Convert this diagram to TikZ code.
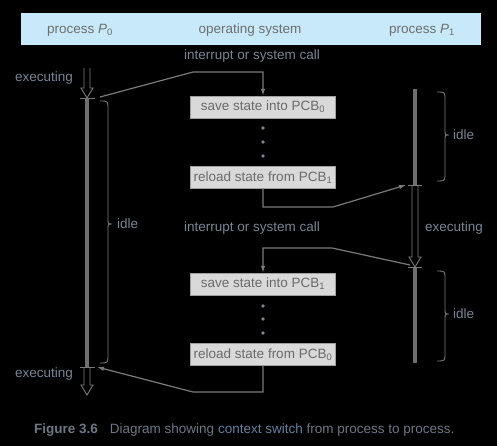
\documentclass[tikz,border=0pt]{standalone}
\usepackage{fontspec}
\setmainfont{Liberation Sans}
\usetikzlibrary{arrows.meta}
\definecolor{headblue}{HTML}{C7E9FA}
\definecolor{headtext}{HTML}{6E6E6E}
\definecolor{labelgray}{HTML}{7B8594}
\definecolor{linegray}{HTML}{7A7A7A}
\definecolor{bargray}{HTML}{6E6E6E}
\definecolor{boxfill}{HTML}{D9D9D9}
\definecolor{boxline}{HTML}{A0A0A0}
\definecolor{boxtext}{HTML}{6A6A6A}
\definecolor{capgray}{HTML}{6F7785}
\definecolor{capblue}{HTML}{66809F}
\begin{document}
\begin{tikzpicture}[x=1pt, y=-1pt,
        every node/.style={font=\fontsize{13.5}{16}\selectfont, text=labelgray, inner sep=0pt},
        statebox/.style={draw=boxline, fill=boxfill, text=boxtext, minimum width=145pt, minimum height=22pt},
        conn/.style={draw=linegray, line width=1.2pt, -{Latex[length=7pt, width=4.5pt]}},
        bar/.style={draw=bargray, line width=4.5pt},
        tickline/.style={draw=linegray, line width=0.8pt},
        hollow/.style={draw=linegray, line width=0.9pt, line join=miter},
        bracket/.style={draw=linegray, line width=0.9pt}]
            \fill[black] (0, 0) rectangle (497, 446);
            \useasboundingbox (0, 0) rectangle (497, 446);
            \fill[headblue] (21, 13) rectangle (481, 45);
            \node(head0)[text=headtext] at (80, 30){process \textit{P}\textsubscript{0}};
            \node(heados)[text=headtext] at (250, 30){operating system};
            \node(head1)[text=headtext] at (422, 30){process \textit{P}\textsubscript{1}};
            \node(call1) at (252, 56){interrupt or system call};
            \node(call2) at (252, 228){interrupt or system call};
            % state boxes
            \node(save0)[statebox] at (263, 107){save state into PCB\textsubscript{0}};
            \node(reload1)[statebox] at (263, 177.5){reload state from PCB\textsubscript{1}};
            \node(save1)[statebox] at (263, 284){save state into PCB\textsubscript{1}};
            \node(reload0)[statebox] at (263, 354.5){reload state from PCB\textsubscript{0}};
            \fill[labelgray] (263, 128) circle (1.8);
            \fill[labelgray] (263, 142) circle (1.8);
            \fill[labelgray] (263, 156) circle (1.8);
            \fill[labelgray] (263, 306) circle (1.8);
            \fill[labelgray] (263, 319) circle (1.8);
            \fill[labelgray] (263, 333) circle (1.8);
            % process P0
            \draw[bar] (87, 98)--(87, 367);
            \draw[tickline] (80, 98)--(95, 98);
            \draw[tickline] (80, 367)--(95, 367);
            \draw[hollow] (84, 68)--(84, 88)--(81, 88)--(87, 98)--(93, 88)--(90, 88)--(90, 68);
            \draw[hollow] (84, 367)--(84, 385)--(81, 385)--(87, 395)--(93, 385)--(90, 385)--(90, 367);
            \node(exec0)[anchor=east] at (73, 78){executing};
            \node(exec2)[anchor=east] at (73, 374){executing};
            \draw[bracket] (100, 101) .. controls (108, 101) .. (108, 109)--(108, 218) .. controls (108, 224) .. (112, 224) .. controls (108, 224) .. (108, 230)--(108, 355) .. controls (108, 363) .. (100, 363);
            \node(idle0)[anchor=west] at (117, 224){idle};
            % process P1
            \draw[bar] (415, 89)--(415, 185);
            \draw[bar] (415, 267)--(415, 363);
            \draw[tickline] (408, 185)--(422, 185);
            \draw[tickline] (408, 267)--(422, 267);
            \draw[hollow] (412, 185)--(412, 257)--(409, 257)--(415, 267)--(421, 257)--(418, 257)--(418, 185);
            \node(exec1)[anchor=west] at (425, 228){executing};
            \draw[bracket] (437, 92) .. controls (445, 92) .. (445, 100)--(445, 130) .. controls (445, 135) .. (449, 135) .. controls (445, 135) .. (445, 140)--(445, 173) .. controls (445, 181) .. (437, 181);
            \node(idle1)[anchor=west] at (453, 135){idle};
            \draw[bracket] (437, 271) .. controls (445, 271) .. (445, 279)--(445, 309) .. controls (445, 314) .. (449, 314) .. controls (445, 314) .. (445, 319)--(445, 353) .. controls (445, 361) .. (437, 361);
            \node(idle2)[anchor=west] at (453, 314){idle};
            % switches
            \coordinate(p0out) at (100, 97);
            \coordinate(bend1) at (193, 72);
            \coordinate(bend2) at (333, 207);
            \coordinate(p1in) at (406, 185);
            \coordinate(p1out) at (410, 265);
            \coordinate(bend3) at (332, 248);
            \coordinate(bend4) at (193, 392);
            \coordinate(p0in) at (97, 367);
            \draw[conn] (p0out)--(bend1)-|(save0.north);
            \draw[conn] (reload1.south)|-(bend2)--(p1in);
            \draw[conn] (p1out)--(bend3)-|(save1.north);
            \draw[conn] (reload0.south)|-(bend4)--(p0in);
            % caption
            \node(caption)[anchor=west, text=capgray] at (34, 430){\textbf{Figure 3.6}\hspace{12pt}Diagram showing \textcolor{capblue}{context switch} from process to process.};
        \end{tikzpicture}
\end{document}
